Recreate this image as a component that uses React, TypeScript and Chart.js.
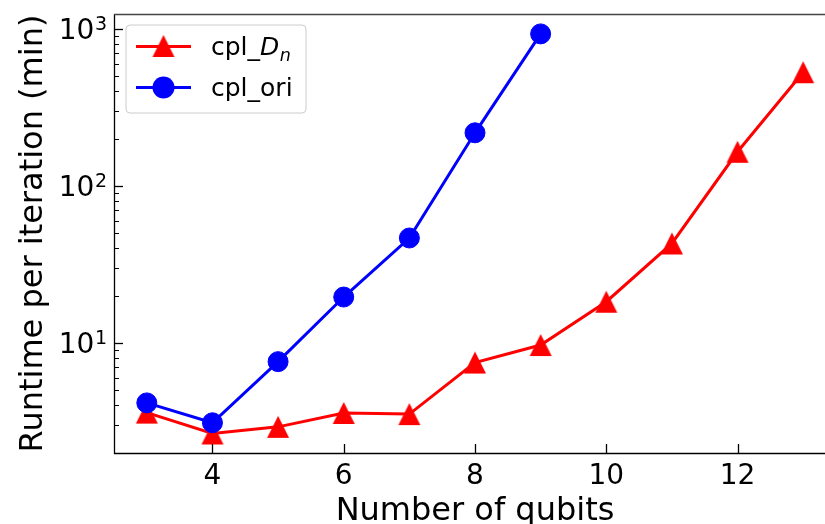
import { useEffect, useRef } from 'react';
import { Chart, registerables } from 'chart.js';

Chart.register(...registerables);

// ---- data ----
const qubitsDn = [3, 4, 5, 6, 7, 8, 9, 10, 11, 12, 13];
const runtimeDn = [3.6, 2.65, 2.92, 3.58, 3.52, 7.5, 9.7, 18.3, 43, 165, 530];
const qubitsOri = [3, 4, 5, 6, 7, 8, 9];
const runtimeOri = [4.15, 3.1, 7.6, 19.6, 46.6, 218, 930];

const xTickValues = [4, 6, 8, 10, 12];
const yMajorTicks = [10, 100, 1000];
const yMajorExponents = ['1', '2', '3'];
const yMinorTicks = [2, 3, 4, 5, 6, 7, 8, 9, 20, 30, 40, 50, 60, 70, 80, 90, 200, 300, 400, 500, 600, 700, 800, 900];

const X_MIN = 2.5;
const X_MAX = 13.5;
const Y_MIN = 1.99;
const Y_MAX = 1245;

const FONT = "'DejaVu Sans'";
const RED = '#ff0000';
const BLUE = '#0000ff';

function makeTriangle(color: string, size: number): HTMLCanvasElement {
  const c = document.createElement('canvas');
  c.width = size + 2;
  c.height = size + 2;
  const g = c.getContext('2d')!;
  g.fillStyle = color;
  g.beginPath();
  g.moveTo(c.width / 2, 1);
  g.lineTo(1, size + 1);
  g.lineTo(size + 1, size + 1);
  g.closePath();
  g.fill();
  return c;
}

export default function App() {
  const ref = useRef<HTMLCanvasElement | null>(null);

  useEffect(() => {
    if (!ref.current) return;
    const tri = makeTriangle(RED, 22);

    const axesPlugin = {
      id: 'mplAxes',
      afterDatasetsDraw(chart: any) {
        const { ctx, chartArea, scales } = chart;
        const { left, right, top, bottom } = chartArea;
        const xs = scales.x;
        const ys = scales.y;
        ctx.save();
        ctx.strokeStyle = '#000';
        ctx.lineWidth = 1.3;
        xTickValues.forEach((v) => {
          const px = Math.round(xs.getPixelForValue(v)) + 0.5;
          ctx.beginPath();
          ctx.moveTo(px, bottom);
          ctx.lineTo(px, bottom - 9);
          ctx.stroke();
        });
        yMajorTicks.forEach((v) => {
          const py = Math.round(ys.getPixelForValue(v)) + 0.5;
          ctx.beginPath();
          ctx.moveTo(left, py);
          ctx.lineTo(left + 9, py);
          ctx.stroke();
        });
        ctx.lineWidth = 1;
        yMinorTicks.forEach((v) => {
          if (v < Y_MIN || v > Y_MAX) return;
          const py = Math.round(ys.getPixelForValue(v)) + 0.5;
          ctx.beginPath();
          ctx.moveTo(left, py);
          ctx.lineTo(left + 5, py);
          ctx.stroke();
        });
        ctx.lineWidth = 1.3;
        ctx.strokeStyle = '#000';
        ctx.beginPath();
        ctx.moveTo(left + 0.5, top);
        ctx.lineTo(left + 0.5, bottom + 0.5);
        ctx.lineTo(right, bottom + 0.5);
        ctx.stroke();
        ctx.strokeStyle = '#444';
        ctx.beginPath();
        ctx.moveTo(left, top + 0.5);
        ctx.lineTo(right, top + 0.5);
        ctx.moveTo(right - 0.5, top);
        ctx.lineTo(right - 0.5, bottom);
        ctx.stroke();

        ctx.fillStyle = '#000';
        yMajorTicks.forEach((v, i) => {
          const py = ys.getPixelForValue(v);
          const e = yMajorExponents[i];
          ctx.font = `19px ${FONT}`;
          const ew = ctx.measureText(e).width;
          const ex = left - 7 - ew;
          ctx.textAlign = 'left';
          ctx.textBaseline = 'alphabetic';
          ctx.fillText(e, ex, py + 1.5);
          ctx.font = `28px ${FONT}`;
          ctx.textAlign = 'right';
          ctx.fillText('10', ex - 0.5, py + 10.5);
        });
        ctx.restore();
      },
      afterDraw(chart: any) {
        const { ctx } = chart;
        ctx.save();
        const bx = 126, by = 25, bw = 180, bh = 88, r = 4;
        ctx.beginPath();
        ctx.moveTo(bx + r, by);
        ctx.lineTo(bx + bw - r, by);
        ctx.quadraticCurveTo(bx + bw, by, bx + bw, by + r);
        ctx.lineTo(bx + bw, by + bh - r);
        ctx.quadraticCurveTo(bx + bw, by + bh, bx + bw - r, by + bh);
        ctx.lineTo(bx + r, by + bh);
        ctx.quadraticCurveTo(bx, by + bh, bx, by + bh - r);
        ctx.lineTo(bx, by + r);
        ctx.quadraticCurveTo(bx, by, bx + r, by);
        ctx.closePath();
        ctx.fillStyle = 'rgba(255,255,255,0.8)';
        ctx.fill();
        ctx.strokeStyle = '#cccccc';
        ctx.lineWidth = 1;
        ctx.stroke();

        ctx.strokeStyle = RED;
        ctx.lineWidth = 3;
        ctx.beginPath();
        ctx.moveTo(136, 46.5);
        ctx.lineTo(191, 46.5);
        ctx.stroke();
        ctx.drawImage(tri, 163.5 - tri.width / 2, 46 - tri.height / 2);
        ctx.strokeStyle = BLUE;
        ctx.beginPath();
        ctx.moveTo(136, 87.5);
        ctx.lineTo(191, 87.5);
        ctx.stroke();
        ctx.fillStyle = BLUE;
        ctx.beginPath();
        ctx.arc(163.5, 87.5, 11, 0, Math.PI * 2);
        ctx.fill();

        ctx.fillStyle = '#000';
        ctx.textAlign = 'left';
        ctx.textBaseline = 'alphabetic';
        ctx.font = `25px ${FONT}`;
        let tx = 211;
        ctx.fillText('cpl_', tx, 55);
        tx += ctx.measureText('cpl_').width;
        ctx.font = `italic 25px ${FONT}`;
        ctx.fillText('D', tx, 55);
        tx += ctx.measureText('D').width;
        ctx.font = `italic 17.5px ${FONT}`;
        ctx.fillText('n', tx + 0.5, 60.5);
        ctx.font = `25px ${FONT}`;
        ctx.fillText('cpl_ori', 211, 96);
        ctx.restore();
      },
    };

    const chart = new Chart(ref.current, {
      type: 'line',
      data: {
        datasets: [
          {
            label: 'cpl_Dn',
            data: qubitsDn.map((q, i) => ({ x: q, y: runtimeDn[i] })),
            borderColor: RED,
            backgroundColor: RED,
            borderWidth: 3,
            pointStyle: tri as any,
            pointRadius: 11,
            order: 2,
          },
          {
            label: 'cpl_ori',
            data: qubitsOri.map((q, i) => ({ x: q, y: runtimeOri[i] })),
            borderColor: BLUE,
            backgroundColor: BLUE,
            borderWidth: 3,
            pointStyle: 'circle',
            pointRadius: 10,
            pointBorderWidth: 1,
            pointBorderColor: BLUE,
            pointBackgroundColor: BLUE,
            order: 1,
          },
        ],
      },
      options: {
        responsive: false,
        animation: false,
        maintainAspectRatio: false,
        layout: { padding: { left: 0, top: 13, right: 10, bottom: 0 } },
        plugins: { legend: { display: false }, tooltip: { enabled: false } },
        scales: {
          x: {
            type: 'linear',
            min: X_MIN,
            max: X_MAX,
            grid: { display: false, drawTicks: false },
            border: { display: false },
            afterBuildTicks: (s: any) => {
              s.ticks = xTickValues.map((v) => ({ value: v }));
            },
            afterFit: (s: any) => {
              s.height = 71;
            },
            ticks: {
              font: { size: 28, family: FONT },
              color: '#000',
              padding: 7,
              maxRotation: 0,
              autoSkip: false,
              callback: (v: any) => String(v),
            },
            title: {
              display: true,
              text: 'Number of qubits',
              color: '#000',
              font: { size: 32, family: FONT, lineHeight: 0.8 },
              padding: { top: 0, bottom: 0 },
            },
          },
          y: {
            type: 'logarithmic',
            min: Y_MIN,
            max: Y_MAX,
            grid: { display: false, drawTicks: false },
            border: { display: false },
            ticks: { display: false },
            afterFit: (s: any) => {
              s.width = 114;
            },
            title: {
              display: true,
              text: 'Runtime per iteration (min)',
              color: '#000',
              font: { size: 32, family: FONT, lineHeight: 1 },
              padding: { top: 18, bottom: 0 },
            },
          },
        },
      },
      plugins: [axesPlugin],
    });
    return () => chart.destroy();
  }, []);

  return (
    <div
      style={{
        position: 'fixed',
        left: 0,
        top: 0,
        width: 825,
        height: 524,
        overflow: 'hidden',
        background: '#fff',
      }}
    >
      <canvas ref={ref} width={850} height={524} style={{ display: 'block' }} />
    </div>
  );
}
